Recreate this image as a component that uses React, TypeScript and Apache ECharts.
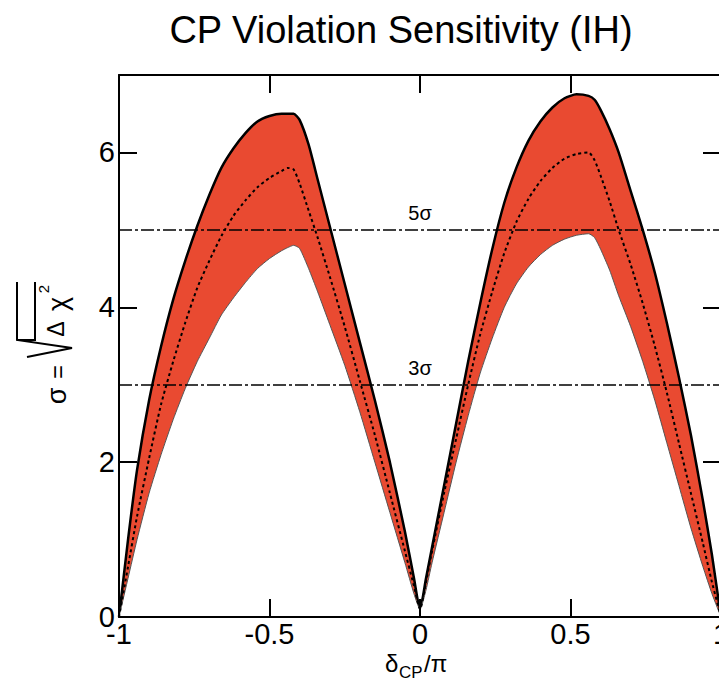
import React, { useEffect, useRef } from "react";
import * as echarts from "echarts";

const X = [-1.0, -0.97, -0.94, -0.9, -0.86, -0.82, -0.78, -0.74, -0.7, -0.66, -0.62, -0.58, -0.54, -0.5, -0.46, -0.44, -0.42, -0.4, -0.37, -0.34, -0.3, -0.25, -0.2, -0.15, -0.1, -0.05, -0.02, 0.0,
  0.02, 0.04, 0.08, 0.12, 0.16, 0.2, 0.24, 0.28, 0.32, 0.36, 0.4, 0.44, 0.48, 0.52, 0.56, 0.58, 0.6, 0.63, 0.66, 0.7, 0.74, 0.78, 0.82, 0.86, 0.9, 0.94, 0.97, 1.0];

const UPPER = [0, 1.0, 1.9, 2.8, 3.5, 4.1, 4.6, 5.05, 5.45, 5.8, 6.05, 6.25, 6.4, 6.47, 6.5, 6.5, 6.5, 6.42, 6.1, 5.65, 5.05, 4.3, 3.55, 2.8, 2.0, 1.1, 0.5, 0.1,
  0.5, 0.9, 1.7, 2.5, 3.3, 4.05, 4.75, 5.35, 5.8, 6.15, 6.4, 6.58, 6.7, 6.75, 6.73, 6.68, 6.55, 6.3, 6.0, 5.5, 5.0, 4.45, 3.8, 3.1, 2.35, 1.5, 0.8, 0];

const CENTRAL = [0, 0.65, 1.3, 2.05, 2.75, 3.3, 3.8, 4.25, 4.6, 4.92, 5.18, 5.38, 5.55, 5.67, 5.76, 5.8, 5.78, 5.6, 5.25, 4.9, 4.4, 3.75, 3.05, 2.35, 1.6, 0.85, 0.4, 0.1,
  0.45, 0.85, 1.6, 2.3, 3.0, 3.65, 4.2, 4.7, 5.1, 5.4, 5.63, 5.8, 5.92, 5.98, 6.0, 5.9, 5.7, 5.37, 5.0, 4.55, 4.05, 3.5, 2.9, 2.25, 1.6, 0.95, 0.45, 0];

const LOWER = [0, 0.5, 1.0, 1.6, 2.1, 2.55, 2.95, 3.3, 3.6, 3.9, 4.12, 4.32, 4.5, 4.63, 4.73, 4.77, 4.8, 4.76, 4.5, 4.2, 3.78, 3.25, 2.65, 2.0, 1.35, 0.7, 0.3, 0.1,
  0.35, 0.7, 1.35, 2.0, 2.6, 3.15, 3.6, 4.0, 4.3, 4.52, 4.68, 4.8, 4.88, 4.93, 4.95, 4.9, 4.75, 4.48, 4.15, 3.75, 3.3, 2.8, 2.25, 1.7, 1.15, 0.65, 0.3, 0];

const SIGMA_LEVELS = [5, 3];
const SIGMA_LABELS = ["5σ", "3σ"];

const TITLE = "CP Violation Sensitivity (IH)";
const FONT = "'Liberation Sans', Arial, Helvetica, sans-serif";

export default function App() {
  const ref = useRef<HTMLDivElement>(null);
  useEffect(() => {
    if (!ref.current) return;
    const chart = echarts.init(ref.current, null, { renderer: "svg" });
    const upperData = X.map((x, i) => [x, UPPER[i]]);
    const lowerData = X.map((x, i) => [x, LOWER[i]]);
    const centralData = X.map((x, i) => [x, CENTRAL[i]]);
    const axisLine = { show: true, onZero: false, lineStyle: { color: "#000", width: 2 } };
    const tick = { show: true, inside: true, length: 18, lineStyle: { color: "#000", width: 2 } };
    const txt = (x: number, y: number, text: string, size: number, rot = 0, align = "center", valign = "middle") => ({
      type: "text", x, y, rotation: rot, z: 10,
      style: { text, font: `${size}px ${FONT}`, fill: "#000", textAlign: align, textVerticalAlign: valign, align, verticalAlign: valign },
    });
    const option: any = {
      animation: false,
      backgroundColor: "#fff",
      textStyle: { fontFamily: FONT },
      grid: { left: 119, right: -2, top: 75, bottom: 66, outerBoundsMode: "none", containLabel: false },
      xAxis: [
        {
          type: "value", min: -1, max: 1, interval: 0.5, position: "bottom", z: 10,
          axisLine, axisTick: tick, splitLine: { show: false },
          axisLabel: { fontSize: 29, color: "#000", margin: 2, fontFamily: FONT },
        },
        {
          type: "value", min: -1, max: 1, interval: 0.5, position: "top", z: 10,
          axisLine, axisTick: tick, splitLine: { show: false }, axisLabel: { show: false },
        },
      ],
      yAxis: [
        {
          type: "value", min: 0, max: 7, interval: 2, position: "left", z: 10,
          axisLine, axisTick: tick, splitLine: { show: false },
          axisLabel: { fontSize: 29, color: "#000", margin: 4, showMaxLabel: false, fontFamily: FONT },
        },
        {
          type: "value", min: 0, max: 7, interval: 2, position: "right", z: 10,
          axisLine, axisTick: tick, splitLine: { show: false }, axisLabel: { show: false },
        },
      ],
      series: [
        {
          type: "line", name: "upper", data: upperData, showSymbol: false, smooth: 0.2,
          lineStyle: { color: "#000", width: 2.5 }, areaStyle: { color: "#e94a31", opacity: 1 }, z: 2,
        },
        {
          type: "line", name: "lower", data: lowerData, showSymbol: false, smooth: 0.2,
          lineStyle: { color: "#555", width: 1 }, areaStyle: { color: "#fff", opacity: 1 }, z: 3,
        },
        {
          type: "line", name: "central", data: centralData, showSymbol: false, smooth: 0.2,
          lineStyle: { color: "#000", width: 2, type: [3, 3] }, z: 4,
          markLine: {
            silent: true, symbol: "none",
            lineStyle: { color: "#000", width: 1.6, type: [13, 3, 3, 3] },
            label: {
              show: true, position: "middle", distance: 7, color: "#000", fontSize: 20, fontFamily: FONT,
              formatter: (p: any) => SIGMA_LABELS[SIGMA_LEVELS.indexOf(p.value)] ?? "",
            },
            data: SIGMA_LEVELS.map((v) => ({ yAxis: v })),
          },
        },
      ],
      graphic: [
        txt(401, 30, TITLE, 38),
        // x axis name: delta_CP / pi
        txt(385, 675, "δ", 24, 0, "left", "bottom"),
        txt(399, 681, "CP", 17, 0, "left", "bottom"),
        txt(424, 675, "/π", 24, 0, "left", "bottom"),
        // y axis name: sigma = sqrt(Delta chi^2), rotated
        txt(57, 396, "σ", 27, Math.PI / 2),
        txt(57, 372, "=", 24, Math.PI / 2),
        txt(56, 329, "Δ", 23, Math.PI / 2),
        txt(58, 304, "χ", 27, Math.PI / 2),
        txt(43, 289, "2", 15, Math.PI / 2),
        { type: "polyline", z: 10, shape: { points: [[27, 357], [72, 348], [17, 340], [17, 282]] }, style: { stroke: "#000", lineWidth: 2, fill: null } },
        { type: "polyline", z: 10, shape: { points: [[17, 340], [35, 340], [35, 282]] }, style: { stroke: "#000", lineWidth: 2, fill: null } },
      ],
    };
    chart.setOption(option);
    return () => chart.dispose();
  }, []);
  return (
    <div
      ref={ref}
      style={{ position: "fixed", left: 0, top: 0, width: 719, height: 683, background: "#fff" }}
    />
  );
}
